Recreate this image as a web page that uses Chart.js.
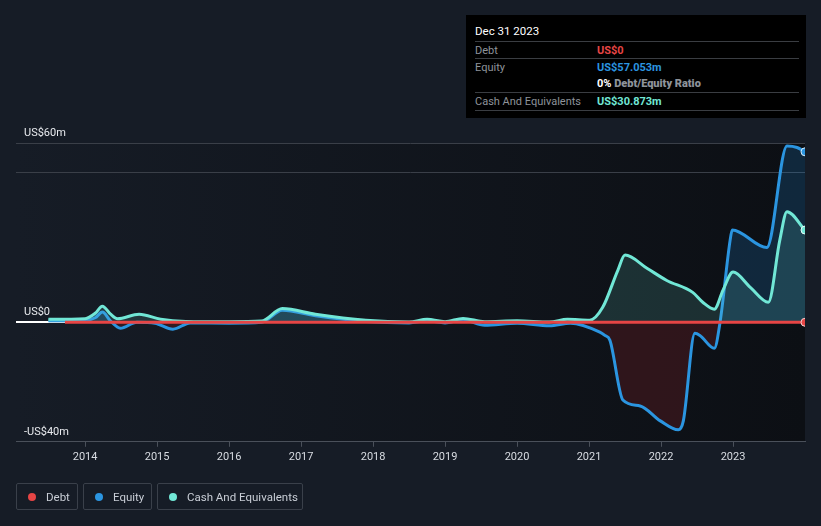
<!DOCTYPE html>
<html>
<head>
<meta charset="utf-8">
<script src="https://cdn.jsdelivr.net/npm/chart.js@4.4.0/dist/chart.umd.min.js"></script>
<style>
  body { margin: 0; background: #161c26; font-family: Roboto, sans-serif; }
  #wrap { position: relative; width: 821px; height: 526px; }
  #tip { position: absolute; left: 466px; top: 15px; width: 340px; height: 103px; background: #000; font-size: 11px; }
  #tip .head { position: absolute; left: 9px; top: 9px; color: #fff; font-size: 11.5px; }
  #tip .row { position: absolute; left: 9px; width: 324px; height: 17px; border-top: 1px solid #3a3d42; }
  #tip .row span { position: absolute; top: 2px; white-space: nowrap; }
  #tip .lab { left: 0; color: #8e939a; }
  #tip .val { left: 122px; font-weight: bold; }
  #legend { position: absolute; left: 16px; top: 483px; display: flex; gap: 5px; }
  .lg { height: 27px; border: 1px solid #3a404a; border-radius: 2px; color: #c9ced6; font-size: 11.5px;
        display: flex; align-items: center; padding: 0 0 0 11px; box-sizing: border-box; white-space: nowrap; }
  .lg i { width: 8px; height: 8px; border-radius: 50%; display: inline-block; margin-right: 10px; flex: none; }
</style>
</head>
<body>
<div id="wrap">
  <canvas id="myChart" width="821" height="526"></canvas>
  <div id="tip">
    <div class="head">Dec 31 2023</div>
    <div class="row" style="top:26px"><span class="lab">Debt</span><span class="val" style="color:#e64545">US$0</span></div>
    <div class="row" style="top:43px"><span class="lab">Equity</span><span class="val" style="color:#2b95e0">US$57.053m</span></div>
    <div class="row" style="top:60px;border-top:none"><span class="val" style="color:#fff">0% <b style="color:#8e939a">Debt/Equity Ratio</b></span></div>
    <div class="row" style="top:77px"><span class="lab">Cash And Equivalents</span><span class="val" style="color:#71e7d6">US$30.873m</span></div>
    <div class="row" style="top:95px;height:0"></div>
  </div>
  <div id="legend">
    <div class="lg" style="width:62px"><i style="background:#e64545"></i>Debt</div>
    <div class="lg" style="width:69px"><i style="background:#2b95e0"></i>Equity</div>
    <div class="lg" style="width:146px"><i style="background:#71e7d6"></i>Cash And Equivalents</div>
  </div>
</div>
<script>
    const ctx = document.getElementById('myChart');

    // years as decimals, values in US$m
    let debtYears = [2013.72, 2024.0];
    let debtValues = [0, 0];

    let equityYears = [2013.49, 2014.0, 2014.14, 2014.24, 2014.35, 2014.49, 2014.72, 2014.97, 2015.22, 2015.46,
        2016.0, 2016.45, 2016.74, 2017.2, 2017.9, 2018.5, 2018.75, 2019.0, 2019.25, 2019.55,
        2020.0, 2020.45, 2020.74, 2021.15, 2021.22, 2021.29, 2021.47, 2021.71, 2021.99, 2022.24,
        2022.31, 2022.47, 2022.54, 2022.74, 2022.82, 2022.96, 2022.99, 2023.47, 2023.75, 2023.89, 2024.0];
    let equityValues = [0.5, 0.6, 1.5, 3.4, 0.5, -2, 0, -0.3, -2.3, -0.2,
        -0.3, 0, 4.0, 2.2, 0.3, -0.2, 0.5, -0.2, 0.8, -1.0,
        -0.3, -1.2, -0.3, -3.3, -4.4, -6, -26, -28, -33, -36,
        -33, -3.7, -4.4, -8.7, 0, 27.5, 30.9, 25, 59, 58.5, 57.053];

    let cashYears = [2013.49, 2014.0, 2014.14, 2014.24, 2014.35, 2014.45, 2014.75, 2015.05, 2015.4, 2016.0,
        2016.45, 2016.74, 2017.2, 2017.9, 2018.5, 2018.75, 2019.0, 2019.25, 2019.55, 2020.0,
        2020.45, 2020.7, 2021.01, 2021.19, 2021.4, 2021.5, 2021.81, 2022.08, 2022.44, 2022.58,
        2022.74, 2022.86, 2023.0, 2023.24, 2023.49, 2023.65, 2023.75, 2024.0];
    let cashValues = [1.0, 1.2, 3.0, 5.4, 2.8, 1.2, 2.7, 1.0, 0.3, 0.2,
        0.4, 4.6, 2.7, 0.7, 0.1, 1.0, 0.2, 1.3, 0.2, 0.5,
        0.1, 1.0, 0.7, 5, 17.4, 22.5, 18, 14, 10, 6.7,
        4.4, 10.7, 16.8, 11.7, 6.7, 27.5, 37, 30.873];

    let yearTicks = [2014, 2015, 2016, 2017, 2018, 2019, 2020, 2021, 2022, 2023];
    let gridValues = [-40, 0, 50, 60];
    let yLabelValues = [60, 0, -40];
    let yLabelText = ['US$60m', 'US$0', '-US$40m'];

    function pts(xs, ys) {
        return xs.map(function (x, i) { return {x: x, y: ys[i]}; });
    }
    function lastOnly(r) {
        return function (c) { return c.dataIndex === c.dataset.data.length - 1 ? r : 0; };
    }

    const bgPlugin = {
        id: 'bg',
        beforeDraw: function (chart) {
            var a = chart.chartArea, c = chart.ctx;
            var g = c.createLinearGradient(a.left, 0, a.right, 0);
            g.addColorStop(0, '#161c26');
            g.addColorStop(1, '#0c0f14');
            c.save();
            c.fillStyle = g;
            c.fillRect(a.left, a.top, a.right - a.left, a.bottom - a.top);
            c.restore();
        },
        afterDraw: function (chart) {
            var c = chart.ctx, y = chart.scales.y;
            c.save();
            c.fillStyle = '#e8eaee';
            c.font = '11px Roboto';
            c.textBaseline = 'alphabetic';
            yLabelValues.forEach(function (v, i) {
                c.fillText(yLabelText[i], 24, y.getPixelForValue(v) - 7);
            });
            c.restore();
        }
    };

    var chart = new Chart(ctx, {
        type: 'line',
        data: {
            datasets: [{
                label: 'Debt',
                data: pts(debtYears, debtValues),
                borderColor: '#e64545',
                backgroundColor: '#e64545',
                borderWidth: 3,
                pointRadius: lastOnly(4),
                pointBorderColor: '#f5d0d0',
                pointBorderWidth: 1,
                order: 0
            }, {
                label: 'Cash And Equivalents',
                data: pts(cashYears, cashValues),
                borderColor: '#71e7d6',
                backgroundColor: '#71e7d6',
                borderWidth: 3,
                cubicInterpolationMode: 'monotone',
                fill: {target: 'origin', above: 'rgba(113,231,214,0.15)', below: 'rgba(113,231,214,0.15)'},
                pointRadius: lastOnly(4),
                pointBorderColor: '#e8fbf8',
                pointBorderWidth: 1,
                order: 1
            }, {
                label: 'Equity',
                data: pts(equityYears, equityValues),
                borderColor: '#2b95e0',
                backgroundColor: '#2b95e0',
                borderWidth: 3,
                cubicInterpolationMode: 'monotone',
                fill: {target: 'origin', above: 'rgba(35,140,220,0.2)', below: 'rgba(110,30,35,0.35)'},
                pointRadius: lastOnly(4),
                pointBorderColor: '#dbeefc',
                pointBorderWidth: 1,
                order: 2
            }]
        },
        options: {
            responsive: false,
            animation: false,
            layout: {padding: {left: 16, right: 16, top: 143, bottom: 58}},
            plugins: {legend: {display: false}, tooltip: {enabled: false}},
            scales: {
                x: {
                    type: 'linear',
                    min: 2013.04,
                    max: 2024.0,
                    afterBuildTicks: function (s) { s.ticks = yearTicks.map(function (v) { return {value: v}; }); },
                    grid: {drawOnChartArea: false, tickLength: 5, color: '#4a505a'},
                    border: {color: '#4a505a'},
                    ticks: {
                        color: '#d8dce2',
                        font: {family: 'Roboto', size: 11},
                        padding: 4,
                        maxRotation: 0,
                        callback: function (v) { return String(v); }
                    }
                },
                y: {
                    min: -40,
                    max: 60,
                    afterBuildTicks: function (s) { s.ticks = gridValues.map(function (v) { return {value: v}; }); },
                    grid: {
                        drawTicks: false,
                        color: function (c) { return c.tick.value === 0 ? '#ffffff' : '#3a3f48'; },
                        lineWidth: function (c) { return c.tick.value === 0 ? 2 : 1; }
                    },
                    border: {display: false},
                    ticks: {display: false}
                }
            }
        },
        plugins: [bgPlugin]
    });
</script>
</body>
</html>
